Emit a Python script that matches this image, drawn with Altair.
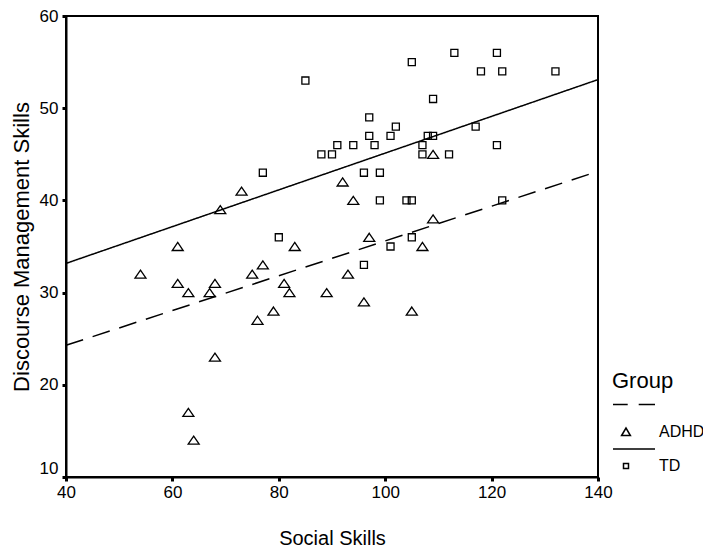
import altair as alt
import pandas as pd

# ---- data ----
groups = ["ADHD", "TD"]

adhd_social = [109, 92, 94, 73, 69, 61, 83, 109, 97, 107, 93, 89, 96, 105,
               54, 61, 63, 68, 67, 75, 77, 81, 82, 79, 76, 68, 63, 64]
adhd_discourse = [45, 42, 40, 41, 39, 35, 35, 38, 36, 35, 32, 30, 29, 28,
                  32, 31, 30, 31, 30, 32, 33, 31, 30, 28, 27, 23, 17, 14]

td_social = [85, 105, 113, 121, 118, 122, 132, 109, 97, 102, 117, 97, 101, 108,
             109, 91, 94, 98, 107, 121, 88, 90, 107, 112, 96, 99, 77, 99, 104,
             105, 122, 80, 105, 101, 96]
td_discourse = [53, 55, 56, 56, 54, 54, 54, 51, 49, 48, 48, 47, 47, 47,
                47, 46, 46, 46, 46, 46, 45, 45, 45, 45, 43, 43, 43, 40, 40,
                40, 40, 36, 36, 35, 33]

x_ticks = [40, 60, 80, 100, 120, 140]
y_ticks = [10, 20, 30, 40, 50, 60]

df = pd.DataFrame({
    "social": adhd_social + td_social,
    "discourse": adhd_discourse + td_discourse,
    "Group": [groups[0]] * len(adhd_social) + [groups[1]] * len(td_social),
})

# ---- marker / legend glyph shapes ----
tri_path = "M0,-0.73L1,0.73L-1,0.73Z"
sq_path = "M-0.64,-0.64L0.64,-0.64L0.64,0.64L-0.64,0.64Z"
legend_adhd = "M-1.3,-2.74L0.17,-2.74M1.27,-2.74L2.9,-2.74M-0.44,0.35L0,-0.4L0.44,0.35Z"
legend_td = "M-1.3,-1.7L2.9,-1.7M-0.25,-0.25L0.25,-0.25L0.25,0.25L-0.25,0.25Z"

FONT = "Liberation Sans"

common_axis = dict(
    labelFontSize=17, titleFontWeight="normal", tickSize=4, tickWidth=3,
    domainWidth=2, domainColor="black", tickColor="black", labelColor="black",
    titleColor="black", grid=False, labelFont=FONT, titleFont=FONT,
)

x_enc = alt.X(
    "social:Q",
    scale=alt.Scale(domain=[40, 140], nice=False, zero=False),
    axis=alt.Axis(values=x_ticks, title="Social Skills", titleFontSize=20,
                  titlePadding=28, labelPadding=3, labelFlush=False, **common_axis),
)
y_enc = alt.Y(
    "discourse:Q",
    scale=alt.Scale(domain=[10, 60], nice=False, zero=False),
    axis=alt.Axis(values=y_ticks, title="Discourse Management Skills",
                  titleFontSize=22, titlePadding=6, labelPadding=4,
                  labelOffset={"condition": {"test": "datum.value == 10", "value": -9}, "value": 0},
                  **common_axis),
)

base = alt.Chart(df)

lines = base.transform_regression(
    "social", "discourse", groupby=["Group"], extent=[40, 140]
).mark_line(color="black", strokeWidth=1.5).encode(
    x=x_enc, y=y_enc,
    strokeDash=alt.StrokeDash("Group:N", scale=alt.Scale(domain=groups, range=[[18, 10], [1, 0]]),
                              legend=None),
)

points = base.mark_point(filled=False, color="black", strokeWidth=1.3, size=121, opacity=1).encode(
    x=x_enc, y=y_enc,
    shape=alt.Shape("Group:N", scale=alt.Scale(domain=groups, range=[tri_path, sq_path]), legend=None),
)

legend_layer = base.transform_filter("false").mark_point(
    filled=False, color="black", strokeWidth=1.5, size=400, opacity=1
).encode(
    x=x_enc, y=y_enc,
    shape=alt.Shape(
        "Group:N",
        scale=alt.Scale(domain=groups, range=[legend_adhd, legend_td]),
        legend=alt.Legend(
            title="Group", orient="none", legendX=546, legendY=355,
            titleFontSize=22, titleFontWeight="normal", titleFont=FONT, titleColor="black",
            labelFontSize=16, labelFont=FONT, labelColor="black",
            symbolSize=400, symbolStrokeWidth=1.5, symbolStrokeColor="black",
            symbolOffset=3, labelOffset=22, rowPadding=6, titlePadding=28, padding=0,
        ),
    ),
)

chart = alt.layer(lines, points, legend_layer).resolve_scale(
    shape="independent"
).properties(
    width=532, height=461,
    autosize=alt.AutoSizeParams(type="none"),
    padding={"left": 58, "top": 8, "right": 105, "bottom": 70},
).configure(
    font=FONT,
    view=alt.ViewConfig(stroke="black", strokeWidth=2),
)

chart.save("out.html", embed_options={"renderer": "svg", "actions": False})
